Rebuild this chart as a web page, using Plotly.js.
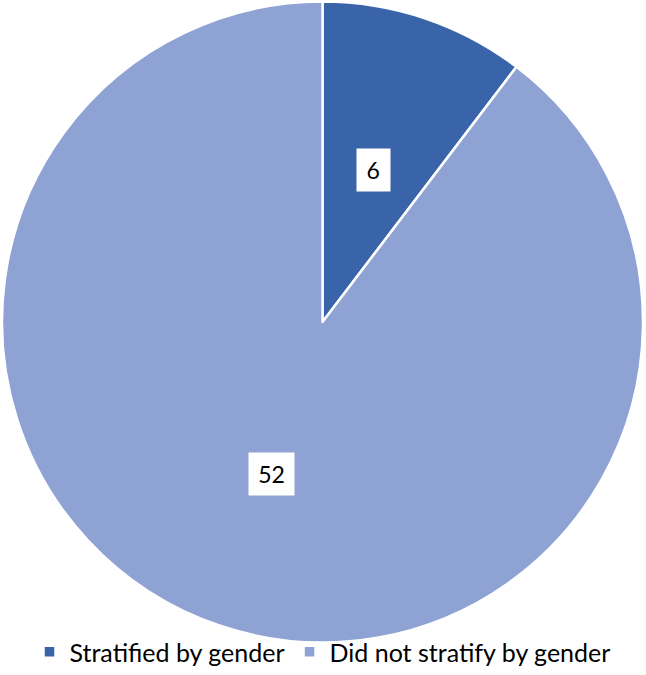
<!DOCTYPE html>
<html>
<head>
<meta charset="utf-8">
<script src="https://cdn.plot.ly/plotly-3.0.1.min.js"></script>
<style>html,body{margin:0;padding:0;background:#fff;}#chart{width:646px;height:675px;}</style>
</head>
<body>
<div id="chart"></div>
<script>
var categories = ["Stratified by gender", "Did not stratify by gender"];
var values = [6, 52];
var colors = ["#3A64AA", "#8FA2D4"];

var domainY = [0.0475, 1];
var total = values.reduce(function(a, b){ return a + b; }, 0);
var midAngle = (values[0] / total) * Math.PI; // middle of first slice, clockwise from top
var yc = (domainY[0] + domainY[1]) / 2, ry = (domainY[1] - domainY[0]) / 2;
var lx = 0.25 * Math.sin(midAngle), ly = 0.5 * ry * Math.cos(midAngle);
var labelPos = [[0.5 + lx, yc + ly], [0.5 - lx, yc - ly]];
var labelFont = {family: "Lato, sans-serif", size: 23, color: "#000"};

var annotations = values.map(function(v, i){
  var txt = String(v);
  return {
    xref: "paper", yref: "paper", x: labelPos[i][0], y: labelPos[i][1],
    xanchor: "center", yanchor: "middle",
    text: txt, showarrow: false, bgcolor: "#ffffff",
    width: 8 + 12.5 * txt.length, height: 30, borderpad: 6,
    font: labelFont
  };
});

var data = [{
  type: "pie",
  labels: categories,
  values: values,
  sort: false,
  direction: "clockwise",
  rotation: 0,
  textinfo: "none",
  hoverinfo: "label+value",
  domain: {x: [0, 1], y: domainY},
  marker: {colors: colors, line: {color: "#ffffff", width: 2.5}}
}];

var layout = {
  width: 646, height: 675,
  margin: {l: 2, r: 3, t: 1, b: 0},
  paper_bgcolor: "#ffffff",
  showlegend: true,
  legend: {
    orientation: "h", x: 0.5, xanchor: "center", y: 0, yanchor: "bottom",
    itemwidth: 30, bgcolor: "rgba(0,0,0,0)",
    font: {family: "Lato, sans-serif", size: 25, color: "#000"}
  },
  annotations: annotations
};

Plotly.newPlot("chart", data, layout, {displayModeBar: false, staticPlot: true});
</script>
</body>
</html>
